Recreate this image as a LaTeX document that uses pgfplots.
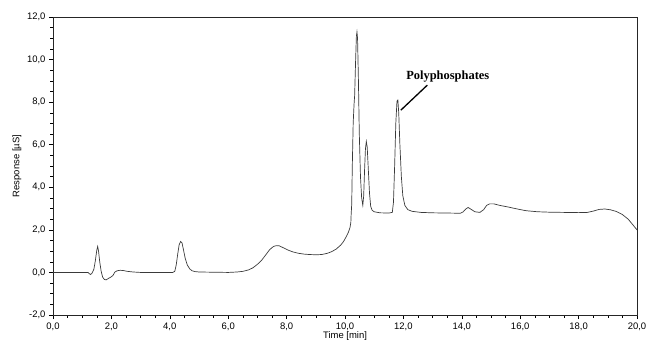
\documentclass[border=0pt]{standalone}
\usepackage{pgfplots}
\pgfplotsset{compat=1.18}
\usepackage{fontspec}
\setmainfont{Liberation Sans}
\newfontfamily\tnr{Liberation Serif}
\definecolor{trace}{HTML}{3A3A3A}
\begin{document}
\begin{tikzpicture}
\begin{axis}[
  scale only axis,
  width=584bp, height=298bp,
  xmin=0, xmax=20, ymin=-2, ymax=12,
  xtick={0,2,...,20}, ytick={-2,0,...,12},
  minor tick num=3,
  tick align=outside,
  tick pos=left,
  major tick length=4bp, minor tick length=2.5bp,
  every tick/.style={black, line width=0.5pt},
  axis line style={line width=0.6pt, black!85},
  ticklabel style={font=\fontsize{9.5}{11}\selectfont},
  /pgf/number format/.cd, fixed, fixed zerofill, precision=1, use comma, assume math mode=true,
  /pgfplots/.cd,
  xlabel={Time [min]}, ylabel={Response [µS]},
  label style={font=\fontsize{9.5}{11}\selectfont},
  xlabel style={yshift=6bp},
  ylabel style={yshift=-1bp},
  clip=false,
]
\addplot[trace, line width=0.7pt] coordinates {
(0.0,0.0) (1.20,0.0) (1.28,-0.10) (1.33,-0.05) (1.40,0.15) (1.45,0.55) (1.50,1.05) (1.53,1.22) (1.56,1.00) (1.60,0.50) (1.65,0.05) (1.70,-0.22) (1.76,-0.33) (1.82,-0.35) (1.90,-0.28) (1.98,-0.22) (2.05,-0.15) (2.12,0.02) (2.20,0.08) (2.30,0.10) (2.40,0.09) (2.55,0.05) (2.75,0.02) (3.0,0.0)
(4.10,0.0) (4.17,0.05) (4.22,0.35) (4.27,0.85) (4.32,1.30) (4.37,1.45) (4.42,1.38) (4.47,1.05) (4.53,0.65) (4.60,0.35) (4.68,0.17) (4.76,0.08) (4.86,0.04) (5.0,0.02) (6.0,0.0)
(6.3,0.02) (6.5,0.05) (6.7,0.12) (6.85,0.22) (7.0,0.38) (7.15,0.58) (7.3,0.85) (7.42,1.07) (7.55,1.22) (7.65,1.26) (7.75,1.25) (7.9,1.15) (8.05,1.05) (8.2,0.97) (8.4,0.90) (8.6,0.86) (8.8,0.84) (9.0,0.83) (9.2,0.84) (9.4,0.90) (9.55,0.98) (9.7,1.10) (9.85,1.28) (9.95,1.45) (10.05,1.70) (10.12,1.90) (10.17,2.10) (10.20,2.35) (10.21,2.7) (10.23,3.2) (10.25,5.0) (10.28,7.0) (10.31,7.9) (10.33,8.3) (10.36,9.8) (10.39,11.1) (10.41,11.3) (10.43,11.0) (10.46,9.0) (10.49,6.5) (10.53,4.5) (10.57,3.5) (10.61,3.15) (10.64,3.6) (10.67,4.8) (10.70,5.8) (10.73,6.15) (10.76,5.9) (10.80,4.8) (10.84,3.7) (10.88,3.1) (10.93,2.92) (11.0,2.85) (11.2,2.80) (11.5,2.79)
(11.62,2.82) (11.66,3.3) (11.70,5.0) (11.74,7.0) (11.78,8.05) (11.81,8.1) (11.84,7.5) (11.88,6.0) (11.93,4.5) (11.98,3.6) (12.05,3.15) (12.15,2.95) (12.3,2.87) (12.6,2.82) (13.0,2.80) (13.5,2.79) (13.95,2.78) (14.05,2.85) (14.15,3.0) (14.22,3.05) (14.30,2.98) (14.45,2.85) (14.62,2.82) (14.75,2.95) (14.85,3.15) (14.95,3.22) (15.1,3.22) (15.3,3.15) (15.6,3.07) (15.9,2.98) (16.2,2.90) (16.6,2.85) (17.0,2.83) (17.5,2.82) (18.0,2.81) (18.3,2.82) (18.5,2.88) (18.7,2.96) (18.9,2.98) (19.1,2.94) (19.3,2.86) (19.5,2.72) (19.7,2.5) (19.85,2.25) (20.0,2.0)
};
\draw[black, line width=1.3pt] (axis cs:12.82,8.80) -- (axis cs:11.91,7.62);
\node[font=\tnr\bfseries\fontsize{12.5}{14}\selectfont, inner sep=0pt] at (axis cs:13.52,9.22) {Polyphosphates};
\coordinate (SW) at (rel axis cs:0,0);
\coordinate (NE) at (rel axis cs:1,1);
\end{axis}
\pgfresetboundingbox
\path ([shift={(-53bp,-29bp)}]SW) rectangle ([shift={(11bp,17bp)}]NE);
\end{tikzpicture}
\end{document}
